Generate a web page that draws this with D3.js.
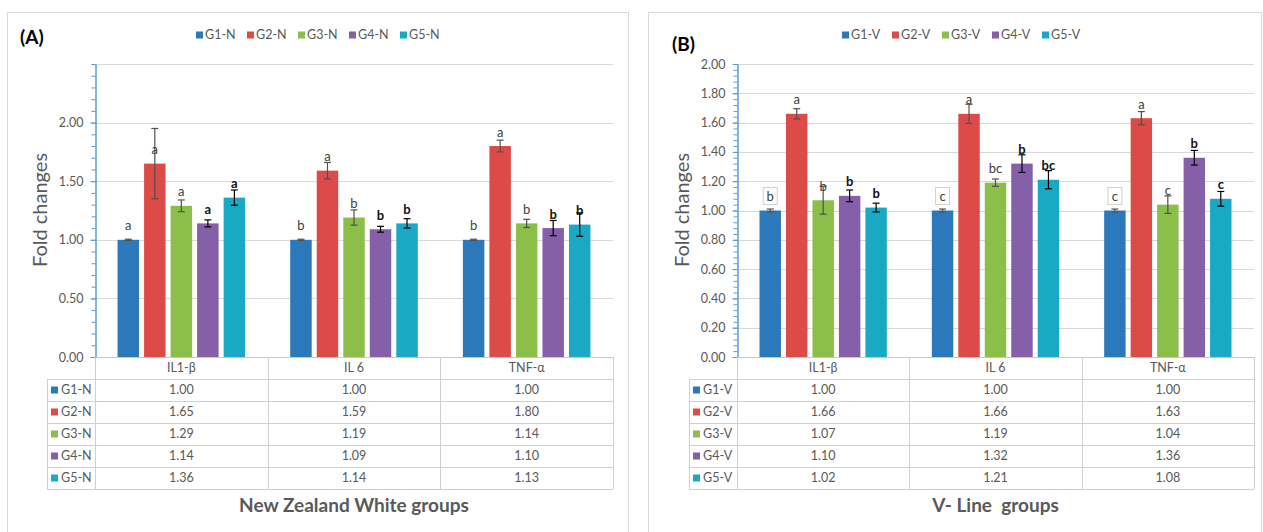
<!DOCTYPE html>
<html><head><meta charset="utf-8">
<script src="https://cdn.jsdelivr.net/npm/d3@7"></script>
<style>body{margin:0;background:#fff}svg{display:block}text{font-family:Lato,"Open Sans",sans-serif}</style>
</head><body>
<svg id="c" width="1263" height="532"></svg>
<script>
const categories = ["IL1-β", "IL 6", "TNF-α"];
const seriesA = ["G1-N", "G2-N", "G3-N", "G4-N", "G5-N"];
const seriesB = ["G1-V", "G2-V", "G3-V", "G4-V", "G5-V"];
const colors = ["#2b79bb", "#dd4b49", "#8cbf4a", "#8560a8", "#19a9c5"];
// values[series][category]
const valuesA = [[1.00,1.00,1.00],[1.65,1.59,1.80],[1.29,1.19,1.14],[1.14,1.09,1.10],[1.36,1.14,1.13]];
const errorsA = [[0.005,0.005,0.005],[0.30,0.07,0.05],[0.05,0.065,0.035],[0.03,0.025,0.065],[0.065,0.04,0.10]];
const lettersA = [["a","b","b"],["a","a","a"],["a","b","b"],["a","b","b"],["a","b","b"]];
const valuesB = [[1.00,1.00,1.00],[1.66,1.66,1.63],[1.07,1.19,1.04],[1.10,1.32,1.36],[1.02,1.21,1.08]];
const errorsB = [[0.01,0.01,0.01],[0.035,0.065,0.045],[0.095,0.025,0.06],[0.04,0.06,0.05],[0.03,0.062,0.05]];
const lettersB = [["b","c","c"],["a","a","a"],["b","bc","c"],["b","b","b"],["b","bc","c"]];
const ticksA = [0, 0.5, 1.0, 1.5, 2.0];
const gridA = [0.5, 1.0, 1.5, 2.0, 2.5];
const ticksB = [0, 0.2, 0.4, 0.6, 0.8, 1.0, 1.2, 1.4, 1.6, 1.8, 2.0];
const titleA = "New Zealand White groups";
const titleB = "V- Line  groups";

const svg = d3.select("#c");
const fmt = d3.format(".2f");

function drawPanel(cfg) {
  const g = svg.append("g");
  // frame
  g.append("rect").attr("x", cfg.fx).attr("y", 12.5).attr("width", cfg.fw).attr("height", 540)
    .attr("fill", "#fff").attr("stroke", "#d9d9d9");
  const y = d3.scaleLinear().domain(cfg.domain).range([357, 64]);
  const x0 = d3.scaleBand().domain(categories).range([cfg.ax, cfg.pr]);
  const x1 = d3.scaleBand().domain(cfg.series).range([0, x0.bandwidth()]).paddingInner(0.19).paddingOuter(0.85);

  // gridlines
  g.selectAll(".grid").data(cfg.grid).join("line")
    .attr("x1", cfg.ax).attr("x2", cfg.pr).attr("y1", d => Math.round(y(d)) + 0.5).attr("y2", d => Math.round(y(d)) + 0.5)
    .attr("stroke", "#d9d9d9");

  // bars
  cfg.series.forEach((s, i) => {
    const sg = g.append("g");
    sg.selectAll("rect").data(categories).join("rect")
      .attr("x", c => x0(c) + x1(s)).attr("width", x1.bandwidth())
      .attr("y", (c, j) => y(cfg.values[i][j])).attr("height", (c, j) => y(0) - y(cfg.values[i][j]))
      .attr("fill", colors[i]);
    const ec = i >= 3 ? "#000" : "#505050";
    categories.forEach((c, j) => {
      const cx = x0(c) + x1(s) + x1.bandwidth() / 2;
      const v = cfg.values[i][j], e = cfg.errors[i][j];
      const yt = y(v + e), yb = y(v - e);
      sg.append("line").attr("x1", cx).attr("x2", cx).attr("y1", yt).attr("y2", yb).attr("stroke", ec).attr("stroke-width", 1.2);
      [yt, yb].forEach(yy => sg.append("line").attr("x1", cx - 3.5).attr("x2", cx + 3.5).attr("y1", yy).attr("y2", yy).attr("stroke", ec).attr("stroke-width", 1.2));
      const ly = y(v) - 14;
      const bold = i >= 3;
      if (cfg.boxFirst && i === 0) {
        sg.append("rect").attr("x", cx - 7).attr("y", ly - 9).attr("width", 14).attr("height", 17)
          .attr("fill", "#fff").attr("stroke", "#d0d0d0");
      }
      sg.append("text").attr("x", cx).attr("y", ly).attr("dy", "0.35em").attr("text-anchor", "middle")
        .attr("font-size", 13).attr("font-weight", bold ? "bold" : "normal")
        .attr("fill", bold ? "#111" : "#404040").text(cfg.letters[i][j]);
    });
  });

  // y axis
  const minor = d3.range(cfg.domain[0], cfg.domain[1] + 1e-9, cfg.minorStep);
  const minorAxis = g.append("g").attr("transform", `translate(${cfg.ax + 0.5},0)`)
    .call(d3.axisLeft(y).tickValues(minor).tickFormat("").tickSize(4).tickSizeOuter(0));
  minorAxis.selectAll("line").attr("stroke", "#5b9bd5");
  minorAxis.select(".domain").attr("stroke", "#5b9bd5");
  const yAxis = g.append("g").attr("transform", `translate(${cfg.ax + 0.5},0)`)
    .call(d3.axisLeft(y).tickValues(cfg.ticks).tickFormat(fmt).tickSize(5).tickSizeOuter(0).tickPadding(7));
  yAxis.select(".domain").attr("stroke", "#5b9bd5");
  yAxis.selectAll("line").attr("stroke", "#5b9bd5");
  yAxis.selectAll("text").attr("font-size", 12.5).attr("fill", "#595959").attr("font-family", "Lato");

  // category axis / table
  const rowH = 22, tTop = 379, tBot = tTop + rowH * 5;
  const lc = "#d0d0d0";
  g.append("line").attr("x1", cfg.ax).attr("x2", cfg.pr).attr("y1", 357.5).attr("y2", 357.5).attr("stroke", "#c8c8c8");
  const bounds = categories.map(c => x0(c)).concat([cfg.pr]);
  g.selectAll(".vl").data(bounds).join("line")
    .attr("x1", d => Math.round(d) + 0.5).attr("x2", d => Math.round(d) + 0.5).attr("y1", 357).attr("y2", tBot)
    .attr("stroke", lc);
  g.append("line").attr("x1", cfg.tl + 0.5).attr("x2", cfg.tl + 0.5).attr("y1", tTop).attr("y2", tBot).attr("stroke", lc);
  d3.range(6).forEach(r => g.append("line").attr("x1", cfg.tl).attr("x2", cfg.pr)
    .attr("y1", tTop + r * rowH + 0.5).attr("y2", tTop + r * rowH + 0.5).attr("stroke", lc));
  g.selectAll(".ch").data(categories).join("text")
    .attr("x", c => x0(c) + x0.bandwidth() / 2).attr("y", 368).attr("dy", "0.35em").attr("text-anchor", "middle")
    .attr("font-size", 12.5).attr("fill", "#595959").text(c => c);
  cfg.series.forEach((s, i) => {
    const ry = tTop + i * rowH + rowH / 2;
    g.append("rect").attr("x", cfg.tl + 4).attr("y", ry - 3.5).attr("width", 7).attr("height", 7).attr("fill", colors[i]);
    g.append("text").attr("x", cfg.tl + 14).attr("y", ry).attr("dy", "0.35em").attr("font-size", 12.5)
      .attr("fill", "#595959").text(s);
    categories.forEach((c, j) => g.append("text").attr("x", x0(c) + x0.bandwidth() / 2).attr("y", ry)
      .attr("dy", "0.35em").attr("text-anchor", "middle").attr("font-size", 12.5).attr("fill", "#595959")
      .text(fmt(cfg.values[i][j])));
  });

  // legend
  cfg.series.forEach((s, i) => {
    const lx = cfg.legX + i * cfg.legStep;
    g.append("rect").attr("x", lx).attr("y", 31.5).attr("width", 7).attr("height", 7).attr("fill", colors[i]);
    g.append("text").attr("x", lx + 9).attr("y", 35).attr("dy", "0.35em").attr("font-size", 12.5)
      .attr("fill", "#595959").text(s);
  });

  // titles
  g.append("text").attr("x", cfg.labX).attr("y", cfg.labY).attr("dy", "0.35em").attr("font-size", 19)
    .attr("font-weight", "bold").attr("fill", "#000").text(cfg.label);
  g.append("text").attr("transform", `translate(${cfg.ax - 55},210) rotate(-90)`).attr("dy", "0.35em")
    .attr("text-anchor", "middle").attr("font-size", 20).attr("fill", "#595959").text("Fold changes");
  g.append("text").attr("x", (cfg.ax + cfg.pr) / 2).attr("y", 505).attr("dy", "0.35em").attr("text-anchor", "middle")
    .attr("font-size", 19).attr("font-weight", "bold").attr("fill", "#595959").attr("xml:space", "preserve").text(cfg.title);
}

drawPanel({ fx: 7.5, fw: 621, ax: 95, pr: 613, tl: 47, domain: [0, 2.5], ticks: ticksA, grid: gridA, minorStep: 0.1,
  series: seriesA, values: valuesA, errors: errorsA, letters: lettersA, boxFirst: false,
  legX: 196, legStep: 51, label: "(A)", labX: 20, labY: 37, title: titleA });
drawPanel({ fx: 648.5, fw: 613, ax: 737, pr: 1254, tl: 689, domain: [0, 2.0], ticks: ticksB, grid: ticksB.slice(1), minorStep: 0.04,
  series: seriesB, values: valuesB, errors: errorsB, letters: lettersB, boxFirst: true,
  legX: 842, legStep: 50, label: "(B)", labX: 672, labY: 44, title: titleB });
</script>
</body></html>
